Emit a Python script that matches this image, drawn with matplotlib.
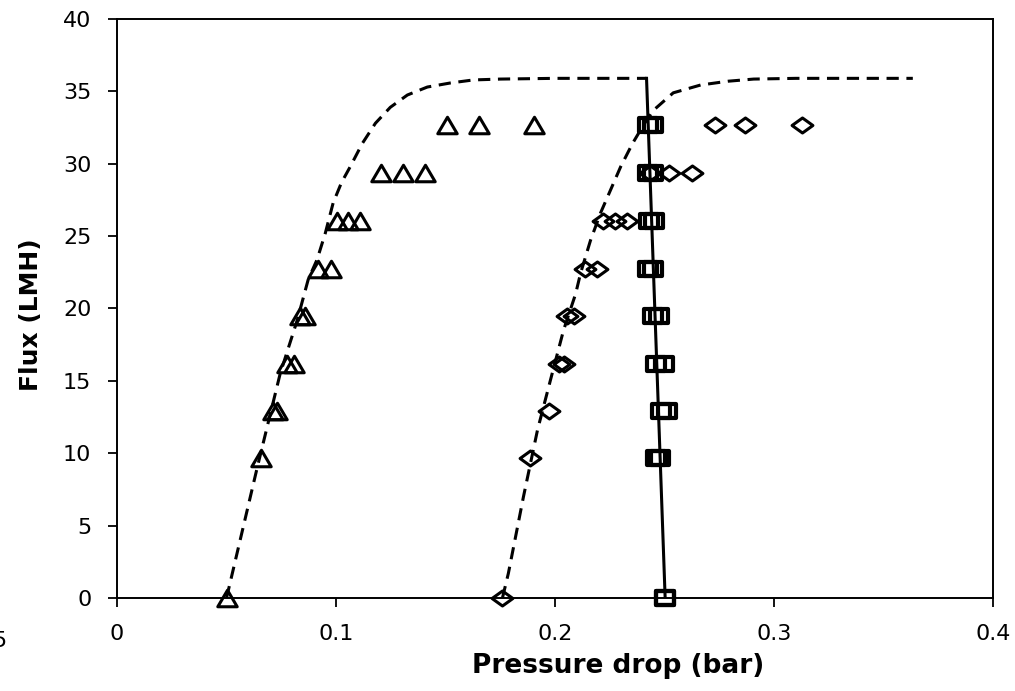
import matplotlib
matplotlib.use("Agg")
import matplotlib.pyplot as plt
from matplotlib.path import Path

# flux levels (LMH) shared by the measured points
flux_rows = [0, 9.65, 12.95, 16.2, 19.5, 22.75, 26.05, 29.35, 32.65]

# triangles
tri_dp = [0.0503, 0.0658, 0.0713, 0.0731, 0.0777, 0.0809, 0.0837, 0.0859,
          0.0919, 0.0978, 0.1006, 0.1056, 0.1111, 0.1207, 0.1307, 0.1408,
          0.1509, 0.1655, 0.1906]
tri_flux = [0, 9.65, 12.95, 12.95, 16.2, 16.2, 19.5, 19.5,
            22.75, 22.75, 26.05, 26.05, 26.05, 29.35, 29.35, 29.35,
            32.65, 32.65, 32.65]

# diamonds
dia_dp = [0.176, 0.1888, 0.1973, 0.2016, 0.2043, 0.2057, 0.2089, 0.2135, 0.219,
          0.2217, 0.2272, 0.2327, 0.2434, 0.2519, 0.2624, 0.2729, 0.2866, 0.3127]
dia_flux = [0, 9.65, 12.95, 16.2, 16.2, 19.5, 19.5, 22.75, 22.75,
            26.05, 26.05, 26.05, 29.35, 29.35, 29.35, 32.65, 32.65, 32.65]

# squares (two runs, nearly on top of each other)
sqa_dp = [0.2501, 0.2459, 0.2482, 0.2459, 0.2446, 0.2423, 0.2427, 0.2423, 0.2423]
sqb_dp = [0.2501, 0.2478, 0.2510, 0.2496, 0.2473, 0.2446, 0.2450, 0.2446, 0.2448]

# dashed model curves
curve1_dp = [0.050, 0.064, 0.0745, 0.0823, 0.0873, 0.0914, 0.0951, 0.0987,
             0.1025, 0.1065, 0.112, 0.118, 0.1248, 0.1326, 0.1417, 0.1522,
             0.1627, 0.175, 0.20, 0.2418]
curve1_flux = [0, 9.0, 15.5, 19.2, 22.0, 23.4, 25.2, 27.3,
               28.7, 29.8, 31.4, 32.8, 33.9, 34.75, 35.3, 35.58,
               35.79, 35.85, 35.9, 35.9]
curve2_dp = [0.176, 0.1787, 0.1856, 0.192, 0.198, 0.2039, 0.2094, 0.2117,
             0.2162, 0.2208, 0.2254, 0.230, 0.2354, 0.2405, 0.245, 0.254,
             0.2665, 0.2789, 0.2907, 0.31, 0.3634]
curve2_flux = [0, 1.7, 7.0, 11.6, 15.1, 18.5, 21.0, 22.45,
               24.7, 26.6, 28.2, 29.8, 31.4, 32.7, 33.7, 34.9,
               35.44, 35.7, 35.85, 35.9, 35.9]

# solid line
solid_dp = [0.2503, 0.2418]
solid_flux = [0, 35.9]

xticks = [0, 0.1, 0.2, 0.3, 0.4]
xticklabels = ["0", "0.1", "0.2", "0.3", "0.4"]
yticks = [0, 5, 10, 15, 20, 25, 30, 35, 40]

plt.rcParams['font.family'] = ['DejaVu Sans']

# slightly flattened marker shapes
C = Path.CLOSEPOLY
tri = Path([(-1, -0.85), (1, -0.85), (0, 0.85), (-1, -0.85)], [1, 2, 2, C])
dia = Path([(-1, 0), (0, 0.72), (1, 0), (0, -0.72), (-1, 0)], [1, 2, 2, 2, C])
sq = Path([(-1, -0.8), (1, -0.8), (1, 0.8), (-1, 0.8), (-1, -0.8)], [1, 2, 2, 2, C])

fig = plt.figure(figsize=(10.15, 6.91), dpi=100)
ax = fig.add_axes([0.1153, 0.1346, 0.8630, 0.8379])

ax.plot(curve1_dp, curve1_flux, color="black", lw=2.2, dashes=(4, 2.5))
ax.plot(curve2_dp, curve2_flux, color="black", lw=2.2, dashes=(4, 2.5))
ax.plot(solid_dp, solid_flux, color="black", lw=2.2)

mk = dict(ls="none", mfc="none", mec="black", clip_on=False)
ax.plot(tri_dp, tri_flux, marker=tri, ms=14, mew=2.2, **mk)
ax.plot(dia_dp, dia_flux, marker=dia, ms=15, mew=2.2, **mk)
ax.plot(sqa_dp, flux_rows, marker=sq, ms=13, mew=3, **mk)
ax.plot(sqb_dp, flux_rows, marker=sq, ms=13, mew=3, **mk)

ax.set_xlim(0, 0.4)
ax.set_ylim(0, 40)
ax.set_xticks(xticks)
ax.set_xticklabels(xticklabels)
ax.set_yticks(yticks)
ax.tick_params(direction="out", length=6.5, width=1.3, labelsize=16, pad=12,
               colors="black")
for s in ax.spines.values():
    s.set_linewidth(1.4)

ax.set_xlabel("Pressure drop (bar)", fontsize=19, fontweight="bold")
ax.xaxis.set_label_coords(0.572, -0.095)
ax.set_ylabel("Flux (LMH)", fontsize=18, fontweight="bold")
ax.yaxis.set_label_coords(-0.084, 0.49)

# stray clipped tick label at the left edge
fig.text(0.006, 0.072, "5", fontsize=16, ha="right", va="center")

fig.savefig("out.png", dpi=100)
